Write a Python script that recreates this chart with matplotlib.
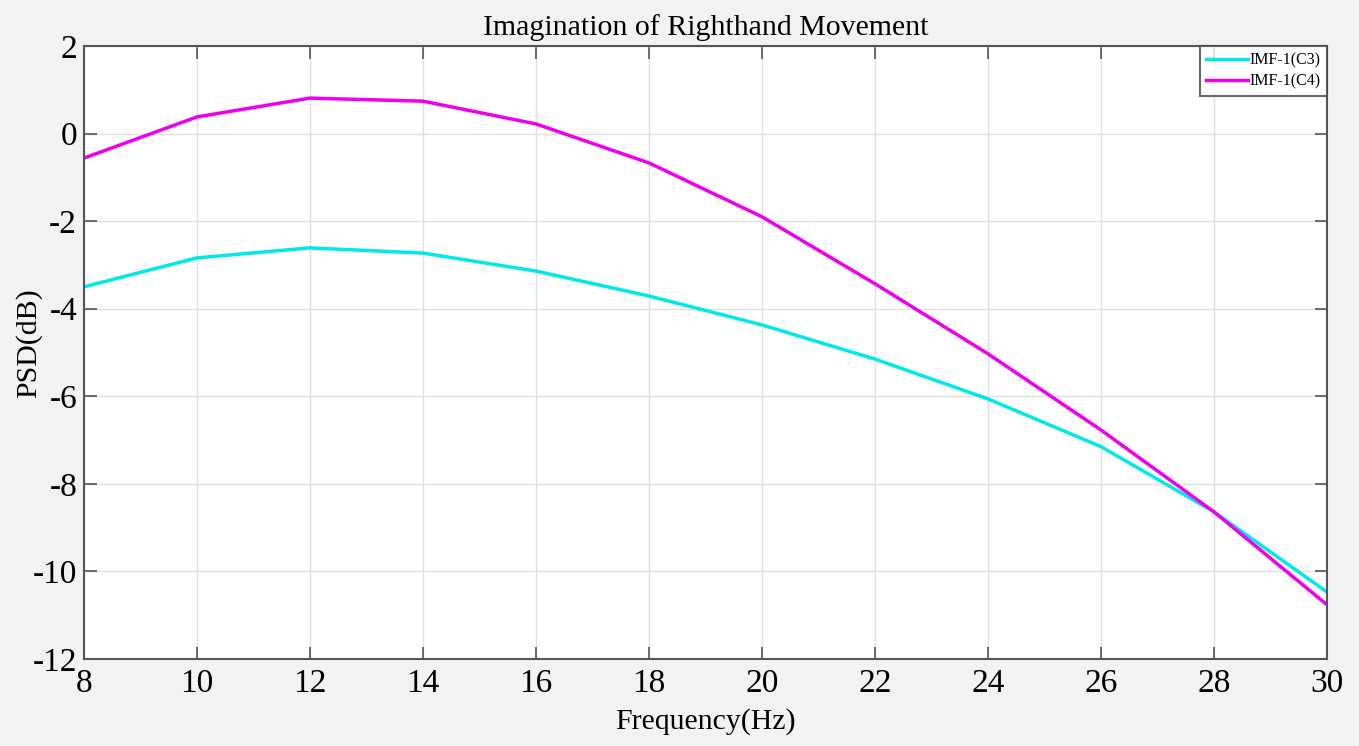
import matplotlib
matplotlib.use("Agg")
import matplotlib.pyplot as plt

freq = [8, 10, 12, 14, 16, 18, 20, 22, 24, 26, 28, 30]
psd_c3 = [-3.50, -2.84, -2.61, -2.73, -3.14, -3.71, -4.37, -5.15, -6.06, -7.15, -8.64, -10.47]
psd_c4 = [-0.56, 0.38, 0.81, 0.74, 0.22, -0.67, -1.90, -3.43, -5.03, -6.77, -8.64, -10.76]
xticks = list(range(8, 31, 2))
yticks = list(range(-12, 3, 2))
xticklabels = [str(v) for v in xticks]
yticklabels = [str(v) for v in yticks]

plt.rcParams['font.family'] = ['Liberation Serif', 'DejaVu Serif']

fig = plt.figure(figsize=(13.59, 7.46), dpi=100, facecolor='#f2f2f2')
ax = fig.add_axes([84/1359, 1-659/746, (1327-84)/1359, (659-46)/746])
ax.set_facecolor('white')
ax.plot(freq, psd_c3, color='#00e8e8', lw=2.5, label='IMF-1(C3)')
ax.plot(freq, psd_c4, color='#ee00ee', lw=2.5, label='IMF-1(C4)')
ax.set_xlim(8, 30)
ax.set_ylim(-12, 2)
ax.set_xticks(xticks)
ax.set_xticklabels(xticklabels)
ax.set_yticks(yticks)
ax.set_yticklabels(yticklabels)
ax.grid(True, color='#e0e0e0', lw=1)
ax.tick_params(direction='in', length=9, width=1.2, color='#555555', top=True, right=True,
               labelsize=24)
ax.tick_params(axis='x', pad=7)
ax.tick_params(axis='y', pad=5)
for s in ax.spines.values():
    s.set_color('#555555')
    s.set_linewidth(1.5)
ax.set_title('Imagination of Righthand Movement', fontsize=21.5, pad=8)
ax.set_xlabel('Frequency(Hz)', fontsize=21.5)
ax.xaxis.set_label_coords(0.5, -0.08)
ax.set_ylabel('PSD(dB)', fontsize=21.5)
ax.yaxis.set_label_coords(-0.034, 0.515)
leg = ax.legend(loc='upper right', fontsize=11.5, frameon=True, fancybox=False,
                borderaxespad=0, handlelength=2.6, handletextpad=0.1, borderpad=0.4,
                labelspacing=0.3, edgecolor='#444444')
leg.get_frame().set_linewidth(1.5)
fig.savefig('out.png', dpi=100, facecolor=fig.get_facecolor())
